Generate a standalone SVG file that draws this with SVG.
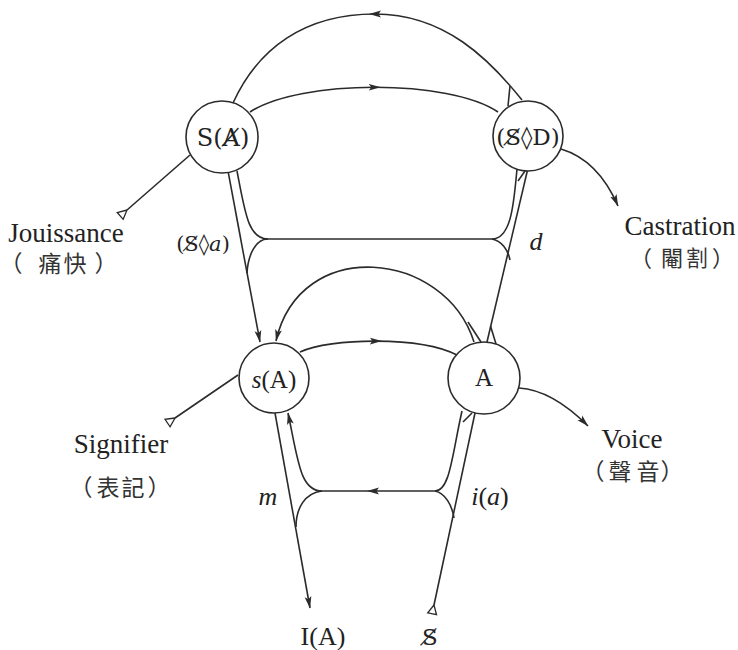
<svg xmlns="http://www.w3.org/2000/svg" width="738" height="650" viewBox="0 0 738 650">
<defs>
<marker id="arrow" markerUnits="userSpaceOnUse" viewBox="0 0 12 8" refX="11.5" refY="4" markerWidth="12" markerHeight="8" orient="auto"><path d="M0,0.6 L12,4 L0,7.4 L2.5,4 Z" fill="#2b2b2b"/></marker>
<marker id="arrowMid" markerUnits="userSpaceOnUse" viewBox="0 0 12 8" refX="6" refY="4" markerWidth="12" markerHeight="8" orient="auto"><path d="M0,0.6 L12,4 L0,7.4 L2.5,4 Z" fill="#2b2b2b"/></marker>
<marker id="tail" markerUnits="userSpaceOnUse" viewBox="-11 -6 13 12" refX="0" refY="0" markerWidth="13" markerHeight="12" orient="auto"><path d="M0,0 L-9,-4.5 L-9,4.5 Z" fill="#fff" stroke="#2b2b2b" stroke-width="1.3"/></marker>
</defs>
<style>
.c{fill:none;stroke:#2b2b2b;stroke-width:1.6;}
.n{fill:#fff;stroke:#2b2b2b;stroke-width:1.6;}
.t{font-family:"Liberation Serif","Noto Sans CJK TC",serif;fill:#222;text-anchor:middle;}
.b{font-family:"DejaVu Serif",serif;fill:#222;text-anchor:middle;}
.i{font-style:italic;}
.z{font-family:"Noto Sans CJK TC","Noto Sans CJK SC",sans-serif;fill:#333;text-anchor:middle;}
</style>
<rect width="738" height="650" fill="#fff"/>
<g id="connectors">
<path class="c" marker-mid="url(#arrowMid)" d="M522,100 C490,60 445,14 375,14 C305,14 258,48 233,103"/>
<path class="c" d="M510,86 L508,106"/>
<path class="c" marker-mid="url(#arrowMid)" d="M250,112 C275,95.5 325,87.25 374.75,87.25 C424.5,87.25 474,95.5 498,112"/>
<path class="c" marker-start="url(#tail)" d="M127,210 L190,155"/>
<path class="c" marker-end="url(#arrow)" d="M561,149 Q598,160 618,206"/>
<path class="c" marker-end="url(#arrow)" d="M228,171 L260,342"/>
<path class="c" d="M237,171 C245,212 248,239 268,239"/>
<path class="c" d="M268,239 C255,239 248,256 247,273"/>
<path class="c" d="M268,239 L492,239"/>
<path class="c" d="M517,169 C514,200 512,239 492,239"/>
<path class="c" d="M492,239 C502,241 508,250 510,260"/>
<path class="c" d="M528,168 L487,342"/>
<path class="c" d="M518,181 L525,171"/>
<path class="c" d="M490.5,326 L496,344"/>
<path class="c" marker-end="url(#arrow)" d="M474,342 C445,250 300,235 276,341"/>
<path class="c" d="M468,322 L481,342"/>
<path class="c" marker-mid="url(#arrowMid)" d="M300,352 C315,345 345,341 375.9,341.1 C406.75,341.25 438.5,345.5 457,355"/>
<path class="c" marker-start="url(#tail)" d="M175,418 L238,375"/>
<path class="c" marker-end="url(#arrow)" d="M519,388 Q552,390 588,426"/>
<path class="c" marker-end="url(#arrow)" d="M275,413 L310,608"/>
<path class="c" marker-end="url(#arrow)" d="M322,491 C300,491 298,460 288,413"/>
<path class="c" d="M322,491 C305,493 296,508 296,527"/>
<path class="c" marker-mid="url(#arrowMid)" d="M435,491 L373,491 L322,491"/>
<path class="c" d="M462,411 C452,455 450,491 435,491"/>
<path class="c" d="M435,491 C445,493 452,505 454,518"/>
<path class="c" marker-start="url(#tail)" d="M434,605 L475,413"/>
<path class="c" d="M463,422 L472,413"/>
</g>
<g id="node-SA">
<circle class="n" cx="222" cy="137" r="36"/>
<text class="b" x="223" y="146" font-size="24">S(A&#x338;)</text>
</g>
<g id="node-SD">
<circle class="n" cx="528" cy="136" r="35"/>
<text class="b" x="528" y="145" font-size="23">(S&#x338;◊D)</text>
</g>
<g id="node-sA">
<circle class="n" cx="274" cy="378" r="35"/>
<text class="t" x="274" y="388" font-size="25"><tspan class="i">s</tspan>(A)</text>
</g>
<g id="node-A">
<circle class="n" cx="484" cy="378" r="36"/>
<text class="t" x="484" y="386" font-size="25">A</text>
</g>
<g id="labels">
<text class="t" x="66" y="242" font-size="27">Jouissance</text>
<text class="z" x="11 50 75 106" y="272" font-size="23">（痛快）</text>
<text class="t" x="680" y="235" font-size="27">Castration</text>
<text class="z" x="641 672 697 723" y="266" font-size="22">（閹割）</text>
<text class="t" x="121" y="453" font-size="27">Signifier</text>
<text class="z" x="81 108 133 159" y="496" font-size="23">（表記）</text>
<text class="t" x="632" y="448" font-size="27">Voice</text>
<text class="z" x="593 620 648 672" y="480" font-size="23">（聲音）</text>
<text class="b" x="203" y="251" font-size="21">(S&#x338;◊<tspan class="i">a</tspan>)</text>
<text class="t i" x="536" y="250" font-size="26">d</text>
<text class="t i" x="268" y="505" font-size="26">m</text>
<text class="t" x="490" y="505" font-size="26"><tspan class="i">i</tspan>(<tspan class="i">a</tspan>)</text>
<text class="t" x="323" y="645" font-size="26">I(A)</text>
<text class="b" x="430" y="645" font-size="23">S&#x338;</text>
</g>
</svg>
